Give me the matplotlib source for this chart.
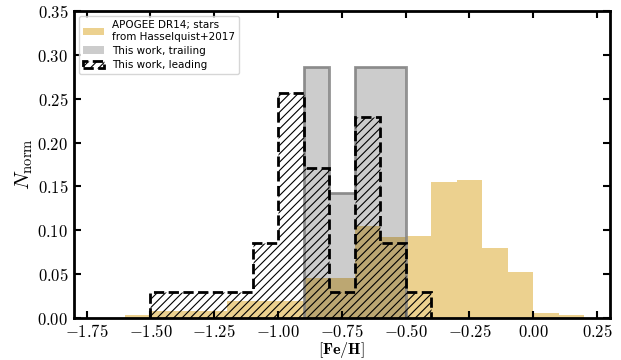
import numpy as np
import matplotlib
matplotlib.use("Agg")
import matplotlib.pyplot as plt
from matplotlib.ticker import FuncFormatter, MultipleLocator

plt.rcParams['mathtext.fontset'] = 'cm'
plt.rcParams['hatch.linewidth'] = 0.8

# APOGEE DR14 (Hasselquist+2017) normalized histogram
apogee_edges = [-1.6, -1.5, -1.4, -1.3, -1.2, -1.1, -1.0, -0.9, -0.8, -0.7,
                -0.6, -0.5, -0.4, -0.3, -0.2, -0.1, 0.0, 0.1, 0.2]
apogee_vals = [0.003, 0.008, 0.008, 0.008, 0.019, 0.019, 0.019, 0.045, 0.045,
               0.105, 0.092, 0.094, 0.155, 0.157, 0.080, 0.052, 0.006, 0.003]

# This work, trailing
trail_edges = [-0.9, -0.8, -0.7, -0.6, -0.5]
trail_vals = [0.286, 0.143, 0.286, 0.286]

# This work, leading
lead_edges = [-1.5, -1.4, -1.3, -1.2, -1.1, -1.0, -0.9, -0.8, -0.7, -0.6, -0.5, -0.4]
lead_vals = [0.029, 0.029, 0.029, 0.029, 0.086, 0.257, 0.171, 0.029, 0.229, 0.086, 0.029]

xticks = [-1.75, -1.50, -1.25, -1.00, -0.75, -0.50, -0.25, 0.00, 0.25]


def centers(edges):
    e = np.asarray(edges)
    return 0.5 * (e[1:] + e[:-1])


fig = plt.figure(figsize=(6.21, 3.60), dpi=100)
ax = fig.add_axes([0.119, 0.117, 0.863, 0.852])

ax.hist(centers(apogee_edges), bins=apogee_edges, weights=apogee_vals,
        histtype='bar', rwidth=1.0, color='goldenrod', alpha=0.5,
        label='APOGEE DR14; stars\nfrom Hasselquist+2017')
ax.hist(centers(trail_edges), bins=trail_edges, weights=trail_vals,
        histtype='bar', rwidth=1.0, color='k', alpha=0.2,
        label='This work, trailing')
ax.hist(centers(trail_edges), bins=trail_edges, weights=trail_vals,
        histtype='step', color='gray', lw=2, alpha=0.85)
ax.hist(centers(lead_edges), bins=lead_edges, weights=lead_vals,
        histtype='step', color='k', lw=2, ls='--', hatch='////',
        label='This work, leading')

ax.set_xlim(-1.8, 0.3)
ax.set_ylim(0, 0.35)
ax.set_xticks(xticks)
ax.yaxis.set_major_locator(MultipleLocator(0.05))
fmt = FuncFormatter(lambda v, p: r'$\mathbf{%.2f}$' % v)
ax.xaxis.set_major_formatter(fmt)
ax.yaxis.set_major_formatter(fmt)
ax.tick_params(direction='in', top=True, right=True, length=5, width=1.5,
               labelsize=12, pad=4)
for s in ax.spines.values():
    s.set_linewidth(2)

ax.set_xlabel(r'$\mathbf{[Fe/H]}$', fontsize=11.5, labelpad=-1)
ax.set_ylabel(r'$N_{\rm norm}$', fontsize=15, labelpad=2)

ax.legend(loc='upper left', fontsize=7.5, borderaxespad=0.45,
          handlelength=2.0, labelspacing=0.4)

fig.savefig('out.png', dpi=100)
